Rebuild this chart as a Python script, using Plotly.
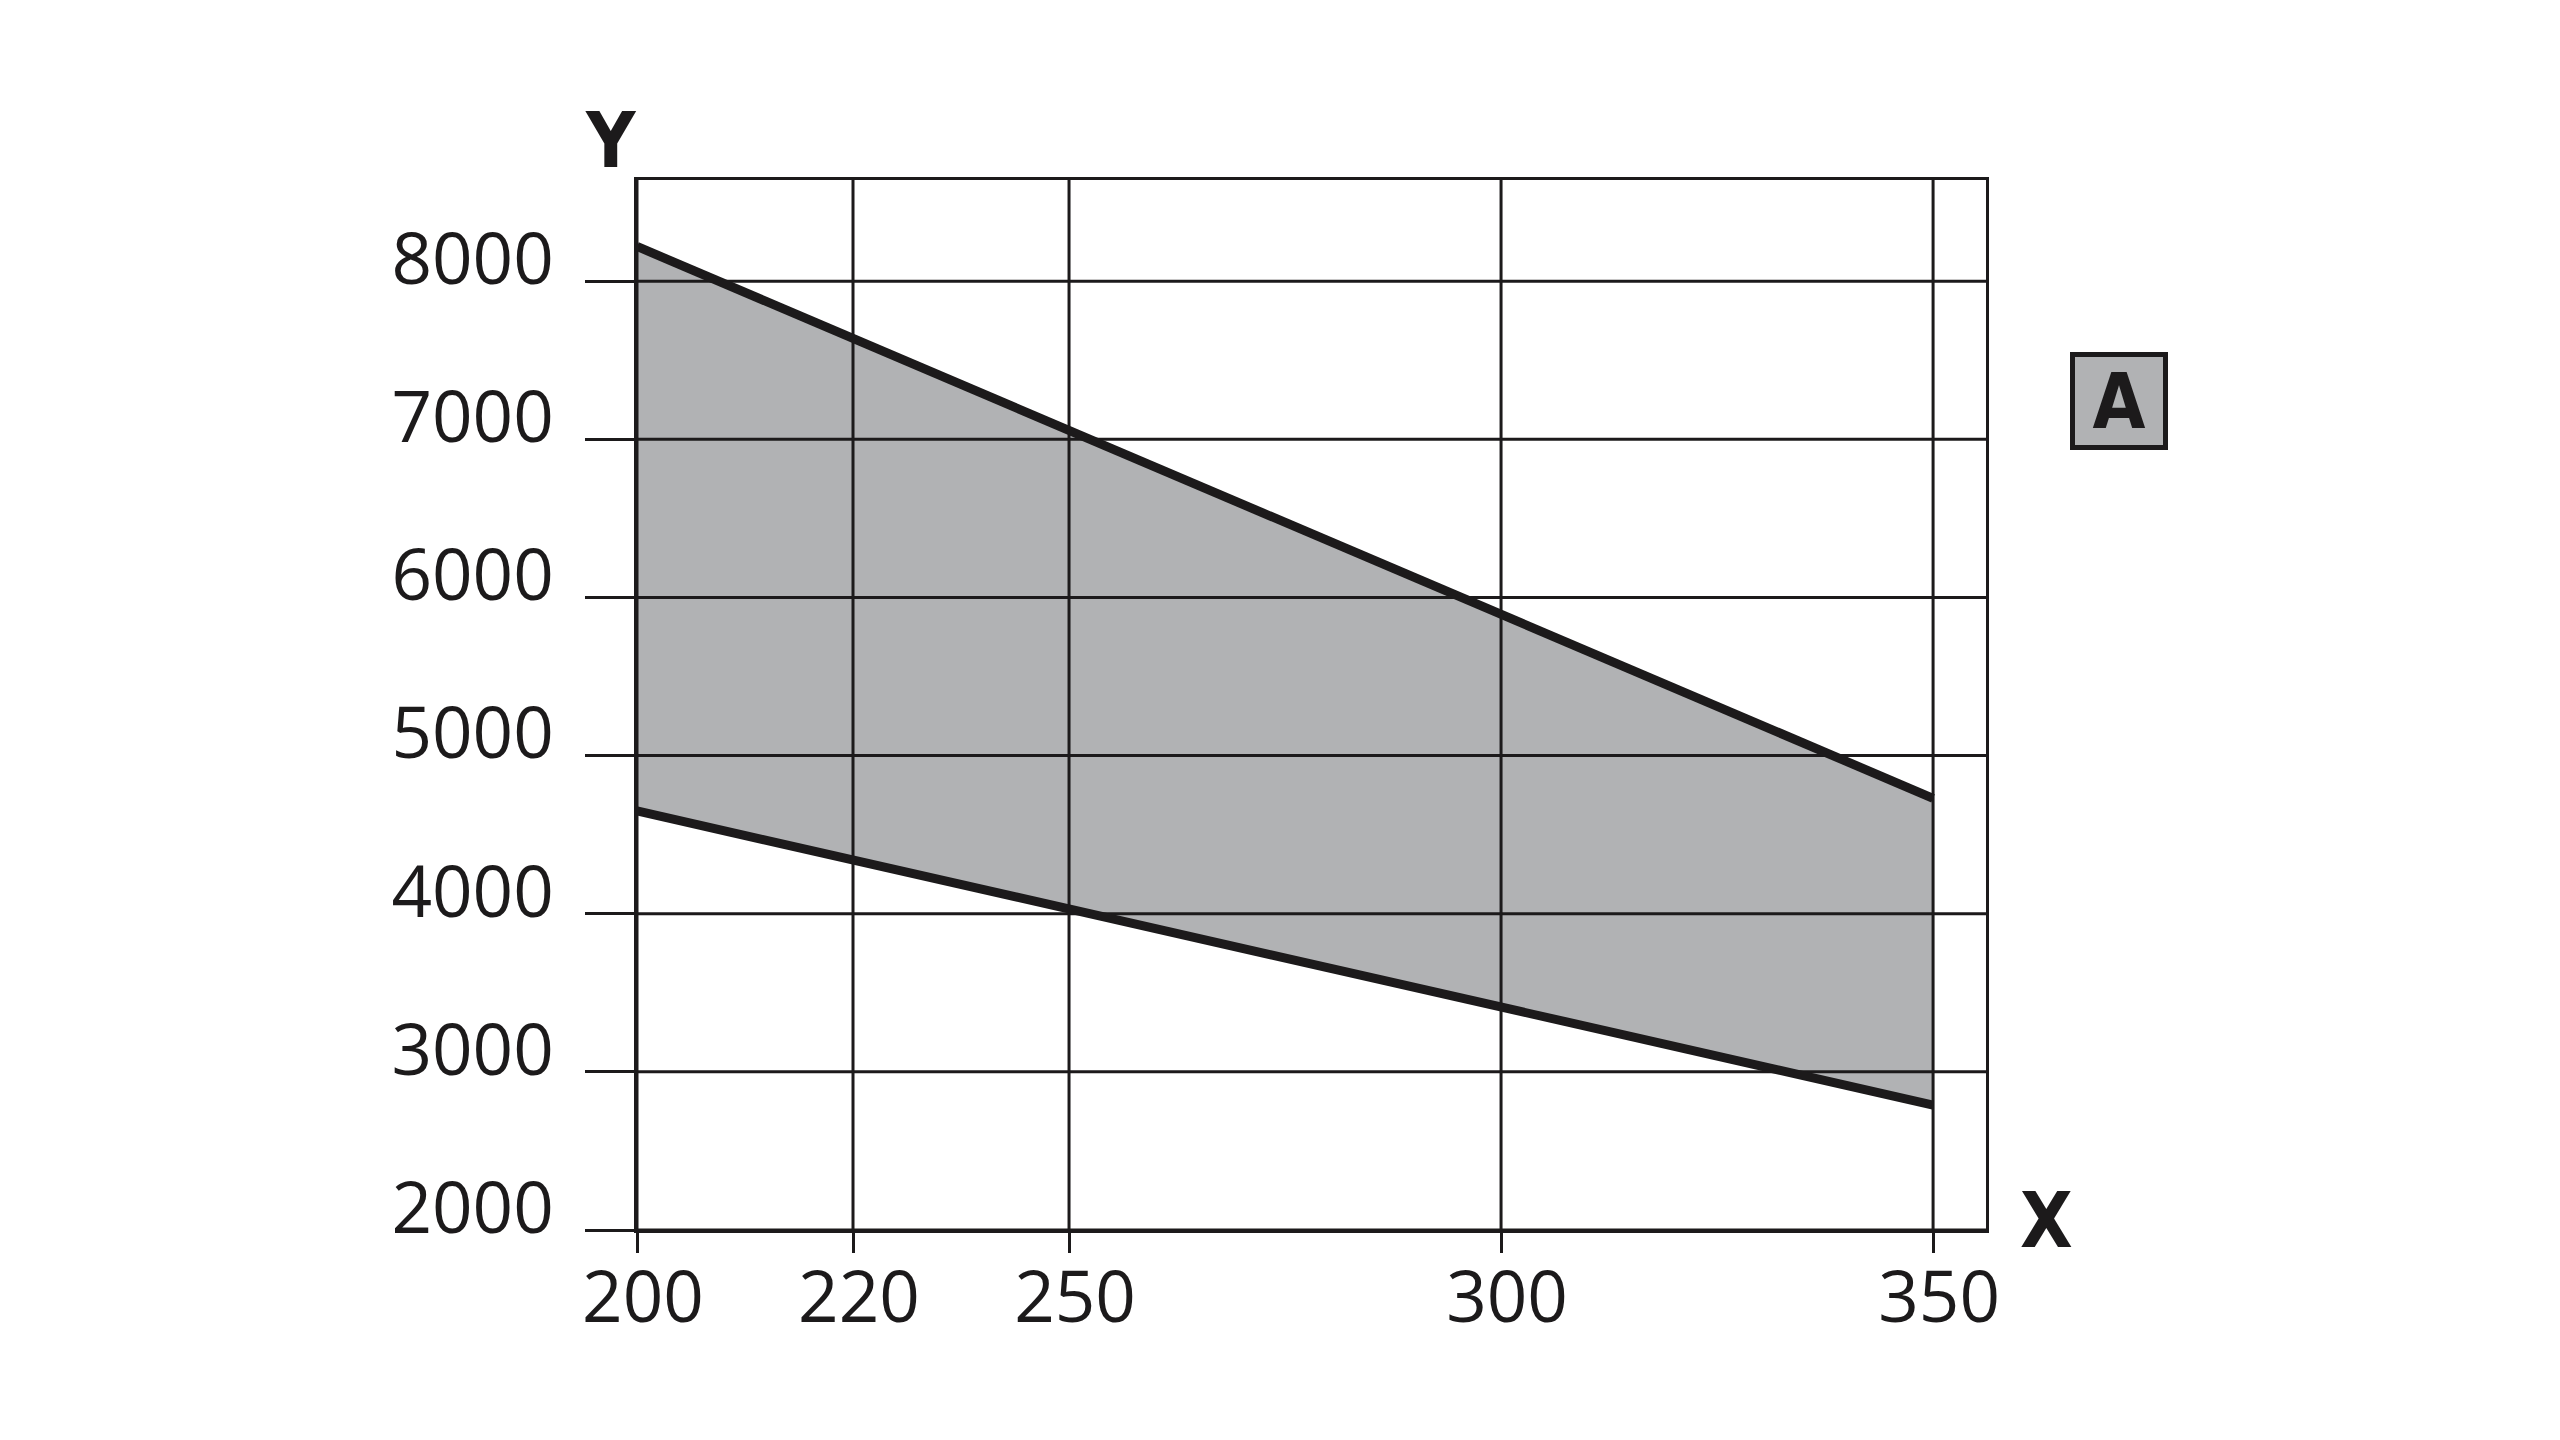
import numpy as np
import plotly.graph_objects as go

# ---- data -------------------------------------------------------------
x_ticks = [200, 220, 250, 300, 350]
x_slots = [0, 1, 2, 4, 6]          # uneven spacing of the original X axis
y_ticks = [2000, 3000, 4000, 5000, 6000, 7000, 8000]

x_data = [200, 220, 250, 300, 350]
upper = [8220, 7640, 7060, 5900, 4730]
lower = [4650, 4340, 4030, 3410, 2790]

x_title = "X"
y_title = "Y"
badge = "A"

# ---- styling ----------------------------------------------------------
INK = "#1c1a1b"
FILL = "#b1b2b4"
TICK_FONT = "Open Sans, Noto Sans, DejaVu Sans, sans-serif"
BOLD_FONT = "Liberation Sans Narrow, Arial Narrow, DejaVu Sans Condensed, sans-serif"

X_MAX = 6.245
Y_MIN, Y_MAX = 2000, 8640


def xpos(vals):
    return [float(v) for v in np.interp(vals, x_ticks, x_slots)]


xs = xpos(x_data)

fig = go.Figure()

# shaded band between the two lines
fig.add_trace(go.Scatter(
    x=xs + xs[::-1], y=upper + lower[::-1],
    fill="toself", fillcolor=FILL, mode="none",
    hoverinfo="skip", showlegend=False,
))

# grid drawn over the band
gx, gy = [], []
for yv in y_ticks:
    gx += [0, X_MAX, None]
    gy += [yv, yv, None]
for s in xpos(x_ticks):
    gx += [s, s, None]
    gy += [Y_MIN, Y_MAX, None]
fig.add_trace(go.Scatter(
    x=gx, y=gy, mode="lines", line=dict(color=INK, width=3),
    hoverinfo="skip", showlegend=False,
))

# boundary lines
for series in (upper, lower):
    fig.add_trace(go.Scatter(
        x=xs, y=series, mode="lines",
        line=dict(color=INK, width=9),
        showlegend=False,
    ))

fig.update_layout(
    width=2560, height=1440,
    margin=dict(l=629, r=582, t=172, b=218),
    paper_bgcolor="white", plot_bgcolor="white",
    showlegend=False,
    font=dict(family=TICK_FONT, color=INK),
    xaxis=dict(
        range=[0, X_MAX], tickmode="array",
        tickvals=xpos(x_ticks), ticktext=[str(v) for v in x_ticks],
        showgrid=False, zeroline=False,
        showline=True, mirror=True, linecolor=INK, linewidth=3,
        ticks="outside", ticklen=20, tickwidth=3, tickcolor=INK,
        tickfont=dict(family=TICK_FONT, size=71, color=INK),
        ticklabelstandoff=-16, ticklabelshift=6,
    ),
    yaxis=dict(
        range=[Y_MIN, Y_MAX], tickmode="array",
        tickvals=y_ticks, ticktext=[str(v) for v in y_ticks],
        showgrid=False, zeroline=False,
        showline=True, mirror=True, linecolor=INK, linewidth=3,
        ticks="outside", ticklen=49, tickwidth=3, tickcolor=INK,
        tickfont=dict(family=TICK_FONT, size=71, color=INK),
        ticklabelshift=-22, ticklabelstandoff=17,
    ),
    annotations=[
        dict(text=f"<b>{y_title}</b>", xref="paper", yref="paper",
             x=-0.0193, y=1.038, showarrow=False,
             xanchor="center", yanchor="middle",
             font=dict(family=BOLD_FONT, size=76, color=INK)),
        dict(text=f"<b>{x_title}</b>", xref="paper", yref="paper",
             x=1.0445, y=0.0086, showarrow=False,
             xanchor="center", yanchor="middle",
             font=dict(family=BOLD_FONT, size=76, color=INK)),
        dict(text=f"<b>{badge}</b>", xref="paper", yref="paper",
             x=1.0986, y=0.7895, showarrow=False,
             xanchor="center", yanchor="middle",
             width=88, height=88, borderpad=0,
             bgcolor=FILL, bordercolor=INK, borderwidth=5,
             font=dict(family=BOLD_FONT, size=76, color=INK)),
    ],
)

fig.write_html("out.html")
